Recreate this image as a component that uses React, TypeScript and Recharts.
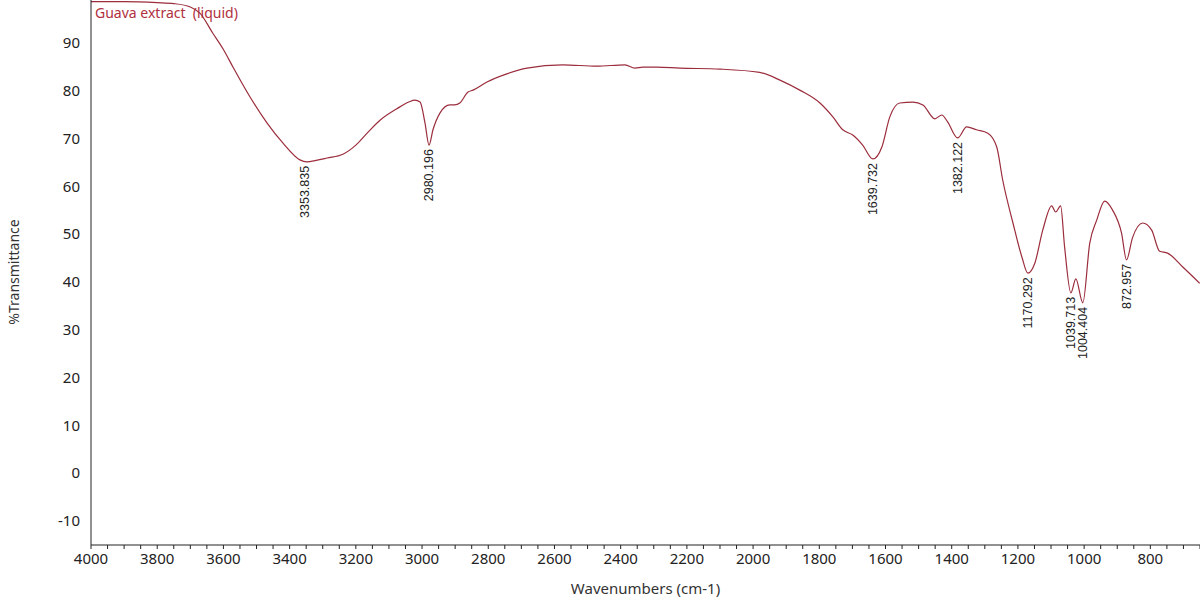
import React from "react";
import { ComposedChart, Line, Scatter, XAxis, YAxis, Customized } from "recharts";

const wavenumbers = [
  4000, 3900, 3800, 3750, 3700, 3671, 3632, 3600, 3571, 3520, 3468, 3420, 3369, 3348, 3320, 3287, 3239, 3200, 3166, 3127,
  3076, 3040, 3022, 3006, 2991, 2979, 2967, 2946, 2916, 2901, 2886, 2861, 2846, 2804, 2744, 2683, 2575, 2472, 2387, 2357,
  2333, 2291, 2221, 2100, 1980, 1919, 1859, 1798, 1759, 1729, 1699, 1669, 1638, 1611, 1587, 1557, 1517, 1487, 1451, 1430,
  1412, 1382, 1355, 1325, 1291, 1264, 1246, 1215, 1188, 1170, 1149, 1125, 1098, 1086, 1071, 1059, 1040, 1025, 1004, 983,
  962, 938, 914, 887, 872, 854, 823, 796, 772, 748, 702, 651,
];

const transmittance = [
  98.6, 98.6, 98.4, 98.2, 97.5, 96.2, 92.0, 88.6, 84.9, 78.7, 73.2, 69.0, 65.5, 65.1, 65.4, 65.9, 66.7, 68.6, 71.1, 73.8,
  76.2, 77.6, 78.0, 77.6, 73.2, 68.6, 71.8, 75.3, 77.0, 77.0, 77.4, 79.7, 80.1, 81.8, 83.5, 84.7, 85.4, 85.1, 85.4, 84.7,
  84.9, 84.9, 84.7, 84.5, 83.8, 82.2, 80.1, 77.4, 74.5, 71.8, 70.7, 68.6, 65.7, 68.2, 74.5, 77.4, 77.6, 77.0, 74.1, 74.9,
  73.4, 70.1, 72.4, 71.8, 71.1, 68.2, 61.3, 52.3, 45.2, 41.8, 43.9, 50.8, 55.9, 54.6, 55.9, 47.3, 37.7, 40.6, 35.6, 48.1,
  52.9, 56.9, 55.0, 50.2, 44.6, 49.2, 52.3, 50.8, 46.4, 46.0, 43.1, 39.7,
];

const peakLabels = ["3353.835", "2980.196", "1639.732", "1382.122", "1170.292", "1039.713", "1004.404", "872.957"];
const peakWavenumbers = [3353.835, 2980.196, 1639.732, 1382.122, 1170.292, 1039.713, 1004.404, 872.957];
const peakValues = [65.1, 68.6, 65.7, 70.1, 41.8, 37.7, 35.6, 44.6];

const xTicks: number[] = [];
for (let v = 4000; v >= 650; v -= 50) xTicks.push(v);
const yTicks = [-10, 0, 10, 20, 30, 40, 50, 60, 70, 80, 90];

const spectrum = wavenumbers.map((wn, i) => ({ wn, t: transmittance[i] }));
const peaks = peakWavenumbers.map((wn, i) => ({ wn, t: peakValues[i], label: peakLabels[i] }));

const LINE_COLOR = "#9b2d3c";
const FONT = "'Noto Sans', 'Open Sans', sans-serif";

const PeakLabel = (props: any) => {
  const { cx, cy, payload } = props;
  if (cx == null || cy == null) return null;
  const y = cy + 4;
  return (
    <text
      x={cx}
      y={y}
      transform={`rotate(-90, ${cx}, ${y})`}
      textAnchor="end"
      dy="0.35em"
      fontSize={12.5}
      fontFamily="Arial, 'Liberation Sans', sans-serif"
      fill="#222"
    >
      {payload.label}
    </text>
  );
};

const Overlay = () => (
  <g>
    <text x={95} y={18} fontSize={14} fontFamily={FONT} fill="#b03040" style={{ whiteSpace: "pre" }}>
      {"Guava extract  (liquid)"}
    </text>
    <text
      x={19}
      y={272}
      transform="rotate(-90, 19, 272)"
      textAnchor="middle"
      fontSize={14}
      fontFamily={FONT}
      fill="#333"
    >
      %Transmittance
    </text>
  </g>
);

export default function App() {
  return (
    <div style={{ position: "absolute", left: 0, top: 0, width: 1200, height: 600, background: "#fff" }}>
      <ComposedChart width={1200} height={600} margin={{ top: 0, right: 0, bottom: 0, left: 0 }}>
        <XAxis
          type="number"
          dataKey="wn"
          domain={[650, 4000]}
          reversed
          ticks={xTicks}
          interval={0}
          allowDataOverflow
          tickFormatter={(v: number) => (v % 200 === 0 ? String(v) : "")}
          tickSize={4}
          tickMargin={4}
          height={55}
          stroke="#222"
          tick={{ fill: "#222", fontSize: 15, fontFamily: FONT }}
          label={{ value: "Wavenumbers (cm-1)", position: "insideBottom", offset: 6, fill: "#333", fontSize: 15, fontFamily: FONT }}
        />
        <YAxis
          type="number"
          dataKey="t"
          domain={[-15.05, 98.95]}
          ticks={yTicks}
          interval={0}
          allowDataOverflow
          width={91}
          tickSize={0}
          tickMargin={11}
          stroke="#222"
          tick={{ fill: "#222", fontSize: 15, fontFamily: FONT }}
        />
        <Line
          data={spectrum}
          dataKey="t"
          type="monotone"
          stroke={LINE_COLOR}
          strokeWidth={1.2}
          dot={false}
          activeDot={false}
          isAnimationActive={false}
        />
        <Scatter data={peaks} dataKey="t" shape={PeakLabel} isAnimationActive={false} />
        <Customized component={Overlay} />
      </ComposedChart>
    </div>
  );
}
